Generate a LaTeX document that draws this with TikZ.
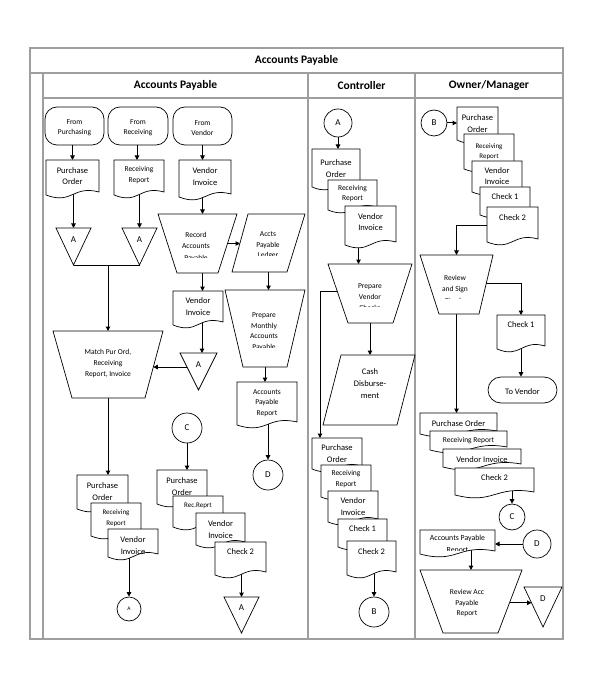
\documentclass[tikz,border=0pt]{standalone}
\usepackage{fontspec}
\setmainfont{Carlito}
\usetikzlibrary{arrows.meta,calc}
\pgfdeclarelayer{bg}
\pgfsetlayers{bg,main}
\tikzset{
 fs/.style 2 args={font=\fontsize{#1}{#2}\selectfont},
 frame/.style={draw=black!38, line width=1.2pt},
 shp/.style={draw=black, line width=0.7pt, fill=white},
 box/.style={draw=none, inner sep=0pt, outer sep=0pt},
 txt/.style={inner sep=0pt, align=center, fs={7.5}{10.5}},
 hdr/.style={inner sep=0pt, font=\fontsize{11.5}{14}\selectfont\bfseries},
 circ/.style={shp, circle, inner sep=0pt, fs={9}{10}},
 term/.style={shp, inner sep=0pt},
 arr/.style={line width=1pt, -{Triangle[length=4.5pt,width=4.5pt]}},
 ln/.style={line width=1pt},
}
% document shape: [text style]{name}{x1}{y1}{x2}{y2}{ytext}{text}
\newcommand\mkDoc[8][]{%
 \draw[shp] (#3,#4) -- (#5,#4) -- (#5,{#6-6}) .. controls ({(#3+#5)/2},{#6-13}) and ({(#3+#5)/2},{#6+7}) .. (#3,{#6-3}) -- cycle;
 \node[box, minimum width={#5-#3}, minimum height={#6-#4}] (#2) at ({(#3+#5)/2},{(#4+#6)/2}) {};
 \node[txt,#1] (#2t) at ({(#3+#5)/2},#7) {#8};
}
% triangle (pointing down): {name}{x1}{y1}{x2}{y2}{ytext}{text}
\newcommand\mkTri[7]{%
 \node[box, minimum width={#4-#2}, minimum height={#5-#3}] (#1) at ({(#2+#4)/2},{(#3+#5)/2}) {};
 \draw[shp] (#1.north west) -- (#1.north east) -- (#1.south) -- cycle;
 \node[txt, fs={9}{10}] (#1t) at ({(#2+#4)/2},#6) {#7};
}
% quadrilateral: {name}{xtl}{xtr}{yt}{xbl}{xbr}{yb}
\newcommand\mkQuad[7]{%
 \draw[shp] (#2,#4) -- (#3,#4) -- (#6,#7) -- (#5,#7) -- cycle;
 \node[box, minimum width={max(#3,#6)-min(#2,#5)}, minimum height={#7-#4}] (#1) at ({(min(#2,#5)+max(#3,#6))/2},{(#4+#7)/2}) {};
}
\begin{document}
\begin{tikzpicture}[x=1pt,y=-1pt]
\useasboundingbox (0,0) rectangle (593,700);
\begin{pgfonlayer}{bg}
\fill[white] (0,0) rectangle (593,700);
\draw[frame] (30,48) rectangle (563,639);
\draw[frame] (30,73) -- (563,73);
\draw[frame] (43,98) -- (563,98);
\draw[frame] (43,73) -- (43,639);
\draw[frame] (308,73) -- (308,639);
\draw[frame] (415,73) -- (415,639);
\end{pgfonlayer}
\node[hdr] (title) at (296.5,60) {Accounts Payable};
\node[hdr] (h1) at (175.5,85.5) {Accounts Payable};
\node[hdr] (h2) at (361.5,85.5) {Controller};
\node[hdr] (h3) at (489,85.5) {Owner/Manager};

% ---------------- lane 1 ----------------
\node[term, rounded corners=12pt, minimum width=59, minimum height=38] (fromP) at (74.5,126) {};
\node[term, rounded corners=12pt, minimum width=60, minimum height=38] (fromR) at (138,126) {};
\node[term, rounded corners=12pt, minimum width=59, minimum height=38] (fromV) at (202.5,126) {};
\begin{scope}
\clip (40,100) rectangle (240,136.5);
\node[txt, fs={7.5}{10}] (fromPt) at (74.5,127.7) {From\\Purchasing};
\node[txt, fs={7.5}{10}] (fromRt) at (138,127.7) {From\\Receiving};
\node[txt, fs={7.5}{10}] (fromVt) at (202.5,127.7) {From\\Vendor};
\end{scope}
\mkDoc[fs={8.5}{11}]{D1}{46}{160}{99}{198}{176.5}{Purchase\\Order}
\mkDoc[fs={7.5}{11}]{D2}{114}{160}{164}{198}{175.5}{Receiving\\Report}
\mkDoc[fs={8.5}{11.5}]{D3}{179}{160}{231}{200}{176.5}{Vendor\\Invoice}
\mkTri{TA1}{56}{228}{91}{265}{240}{A}
\mkTri{TA2}{122}{228}{157}{265}{240}{A}
\mkQuad{rec}{158}{237}{214}{177}{218}{273}
\mkQuad{ledger}{248}{305}{214}{232}{287}{272}
\begin{scope}
\clip (150,200) rectangle (240,257);
\node[txt, fs={7.5}{11}] (rect) at (196,247) {Record\\Accounts\\Payable};
\end{scope}
\begin{scope}
\clip (240,200) rectangle (310,255);
\node[txt, fs={7.5}{10.5}] (ledgert) at (268,245.7) {Accts\\Payable\\Ledger};
\end{scope}
\mkDoc[fs={8.5}{12}]{VI2}{173}{291}{223}{328}{306.7}{Vendor\\Invoice}
\mkQuad{PM}{225}{305}{290}{243}{287}{367}
\begin{scope}
\clip (220,285) rectangle (310,347.5);
\node[txt, fs={7.5}{10.4}] (PMt) at (264,331.7) {Prepare\\Monthly\\Accounts\\Payable};
\end{scope}
\mkTri{TA3}{180}{353}{217}{390}{365}{A}
\mkQuad{match}{53}{163}{331}{72}{145}{398}
\node[txt, fs={7.5}{11}] (matcht) at (108,363) {Match Pur Ord,\\Receiving\\Report, Invoice};
\mkDoc[fs={7.5}{10.5}]{APR}{237}{382}{297}{428}{402.7}{Accounts\\Payable\\Report}
\node[circ, minimum size=30] (C1) at (187,428) {C};
\node[circ, minimum size=30] (Dc1) at (268,475) {D};
\mkDoc[fs={8.5}{12}]{POa}{77}{475}{128}{512}{491.7}{Purchase\\Order}
\mkDoc[fs={7}{11}]{RRa}{91}{503}{141}{539}{518.3}{Receiving\\Report}
\mkDoc[fs={8.5}{12}]{VIa}{108}{529}{158}{560}{545.5}{Vendor\\Invoice}
\node[circ, minimum size=24, fs={5.5}{6}] (Aa) at (129,609) {A};
\mkDoc[fs={8.5}{11.5}]{POb}{157}{470}{207}{507}{486.5}{Purchase\\Order}
\mkDoc[fs={7}{10}]{RRb}{173}{496}{223}{530}{506}{Rec.Reprt}
\mkDoc[fs={8.5}{12}]{VIb}{196}{513}{245}{548}{530}{Vendor\\Invoice}
\mkDoc[fs={8.5}{11}]{CKb}{215}{542}{266}{578}{551.7}{Check 2}
\mkTri{TA4}{224}{597}{259}{633}{608}{A}

% ---------------- lane 2 ----------------
\node[circ, minimum size=28] (A2) at (338,123) {A};
\mkDoc[fs={8.5}{12}]{POc}{312}{149}{360}{190}{169}{Purchase\\Order}
\mkDoc[fs={7.5}{10}]{RRc}{328}{180}{377}{213}{194}{Receiving\\Report}
\mkDoc[fs={8.5}{11}]{VIc}{345}{206}{396}{248}{222.5}{Vendor\\Invoice}
\mkQuad{PVC}{328}{412}{264}{348}{393}{323}
\begin{scope}
\clip (320,260) rectangle (414,306);
\node[txt, fs={7.5}{10.7}] (PVCt) at (370,297) {Prepare\\Vendor\\Checks};
\end{scope}
\mkQuad{CD}{341}{415}{355}{323}{397}{425}
\node[txt, fs={8.5}{12}] (CDt) at (370,383.7) {Cash\\Disburse-\\ment};
\mkDoc[fs={8.5}{12}]{POd}{312}{438}{362}{472}{454}{Purchase\\Order}
\mkDoc[fs={7.5}{11}]{RRd}{321}{465}{371}{500}{479.5}{Receiving\\Report}
\mkDoc[fs={8.5}{12}]{VId}{328}{491}{378}{525}{507}{Vendor\\Invoice}
\mkDoc[fs={8.5}{11}]{CK1d}{338}{519}{387}{550}{529}{Check 1}
\mkDoc[fs={8.5}{11}]{CK2d}{347}{541}{396}{578}{552}{Check 2}
\node[circ, minimum size=30] (Bc) at (374,612) {B};

% ---------------- lane 3 ----------------
\node[circ, minimum size=26] (B2) at (434,123) {B};
\mkDoc[fs={8.5}{12}]{POe}{457}{107}{498}{143}{124}{Purchase\\Order}
\mkDoc[fs={7}{9.5}]{RRe}{464}{134}{514}{172}{151.5}{Receiving\\Report}
\mkDoc[fs={8.5}{11}]{VIe}{472}{161}{522}{195}{176.5}{Vendor\\Invoice}
\mkDoc[fs={8.5}{11}]{CK1e}{480}{187}{530}{218}{197}{Check 1}
\mkDoc[fs={8.5}{11}]{CK2e}{487}{207}{538}{245}{218}{Check 2}
\mkQuad{RSC}{420}{493}{255}{439}{479}{314}
\begin{scope}
\clip (418,250) rectangle (496,298);
\node[txt, fs={7.5}{11.5}] (RSCt) at (455,289) {Review\\and Sign\\Checks};
\end{scope}
\mkDoc[fs={8.5}{11}]{CK1f}{497}{315}{545}{352}{325}{Check 1}
\node[term, rounded corners=13pt, minimum width=69, minimum height=26] (TV) at (522.5,390) {};
\begin{scope}
\clip (488,377) rectangle (557,393);
\node[txt, fs={8.5}{10}] (TVt) at (522.5,391.5) {To Vendor};
\end{scope}
\mkDoc[fs={8.5}{11}]{POg}{420}{413}{497}{437}{424}{Purchase Order}
\mkDoc[fs={7.5}{11}]{RRg}{430}{431}{507}{453}{441}{Receiving Report}
\mkDoc[fs={8.5}{11}]{VIg}{443}{449}{521}{470}{460}{Vendor Invoice}
\mkDoc[fs={8.5}{11}]{CK2g}{455}{468}{534}{498}{478}{Check 2}
\node[circ, minimum size=26] (C2) at (512,517) {C};
\mkDoc{APR2}{420}{530}{495}{557}{544}{}
\begin{scope}
\clip (420,528) rectangle (495,550);
\node[txt, fs={7.8}{12}] (APR2x) at (457.5,544) {Accounts Payable\\Report};
\end{scope}
\node[circ, minimum size=28] (Dc2) at (537,544) {D};
\mkQuad{RAPR}{420}{522}{570}{443}{498}{633}
\node[txt, fs={7.5}{10.5}] (RAPRt) at (467,603.3) {Review Acc\\Payable\\Report};
\mkTri{TD}{524}{587}{562}{627}{599}{D}

% ---------------- connectors ----------------
\begin{pgfonlayer}{bg}
\draw[arr] (D1.north |- fromP.south) -- (D1.north);
\draw[arr] ([xshift=-2pt]D2.north |- fromR.south) -- ([xshift=-2pt]D2.north);
\draw[arr] (fromV.south) -- (fromV.south |- D3.north);
\draw[arr] ([yshift=8pt]TA1.north |- D1.south) -- (TA1.north);
\draw[arr] ([yshift=8pt]TA2.north |- D2.south) -- (TA2.north);
\draw[ln] (TA1.south) -- (TA2.south);
\draw[arr] (match.north |- TA1.south) -- (match.north);
\draw[arr] ([yshift=8pt]fromV.south |- D3.south) -- (fromV.south |- rec.north);
\coordinate (recR) at ($(rec.north east)!0.5!([xshift=-19pt]rec.south east)$);
\coordinate (ledL) at ($([xshift=16pt]ledger.north west)!0.5!(ledger.south west)$);
\draw[arr] (recR) -- (recR -| ledL);
\draw[arr] ([xshift=5pt]rec.south) -- ([xshift=5pt]rec.south |- VI2.north);
\draw[arr] (ledger.south) -- (ledger.south |- PM.north);
\draw[arr] ([xshift=4pt,yshift=8pt]VI2.south) -- ([xshift=4pt]VI2.south |- TA3.north);
\coordinate (ta3L) at ($(TA3.north west)!0.38!(TA3.south)$);
\coordinate (matchR) at ($(match.north east)!0.54!([xshift=-18pt]match.south east)$);
\draw[arr] (ta3L) -- (ta3L -| matchR);
\draw[arr] (match.south) -- (match.south |- POa.north);
\draw[arr] (PM.south) -- (PM.south |- APR.north);
\draw[arr] ([yshift=8pt]Dc1.north |- APR.south) -- (Dc1.north);
\draw[arr] (C1.south) -- (C1.south |- POb.north);
\draw[arr] ([yshift=8pt]Aa.north |- VIa.south) -- (Aa.north);
\draw[arr] ([yshift=8pt]TA4.north |- CKb.south) -- (TA4.north);
\draw[arr] (A2.south) -- (A2.south |- POc.north);
\draw[arr] ([xshift=-12pt,yshift=8pt]VIc.south) -- ([xshift=-12pt]VIc.south |- PVC.north);
\coordinate (pvcL) at ($(PVC.north west)!0.458!([xshift=20pt]PVC.south west)$);
\draw[arr] (pvcL) -| ([xshift=-17pt]POd.north);
\draw[arr] (PVC.south) -- (PVC.south |- CD.north);
\draw[arr] ([yshift=8pt]Bc.north |- CK2d.south) -- (Bc.north);
\draw[arr] (B2.east) -- (B2.east -| POe.west);
\draw[arr] (CK2e.west) -| (RSC.north);
\coordinate (rscR) at ($(RSC.north east)!0.49!([xshift=-14pt]RSC.south east)$);
\draw[arr] (rscR) -| (CK1f.north);
\draw[arr] ([yshift=8pt]CK1f.south) -- (CK1f.south |- TV.north);
\draw[arr] (RSC.south) -- (RSC.south |- POg.north);
\draw[arr] ([yshift=8pt]C2.north |- CK2g.south) -- (C2.north);
\draw[arr] (Dc2.west) -- (Dc2.west -| APR2.east);
\draw[arr] ([yshift=8pt]RAPR.north |- APR2.south) -- (RAPR.north);
\coordinate (raprR) at ($(RAPR.north east)!0.52!([xshift=-24pt]RAPR.south east)$);
\coordinate (tdL) at ($(TD.north west)!0.4!(TD.south)$);
\draw[arr] (raprR) -- (raprR -| tdL);
\end{pgfonlayer}
\end{tikzpicture}
\end{document}
